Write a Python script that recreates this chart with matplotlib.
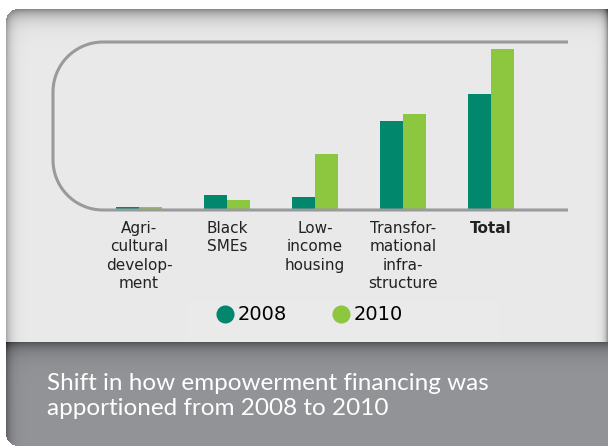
import numpy as np
import matplotlib
matplotlib.use("Agg")
import matplotlib.pyplot as plt
from matplotlib.path import Path
from matplotlib.patches import PathPatch
from matplotlib.lines import Line2D

plt.rcParams["font.family"] = "DejaVu Sans"

# empowerment financing by category
categories = ["Agri-\ncultural\ndevelop-\nment", "Black\nSMEs", "Low-\nincome\nhousing",
              "Transfor-\nmational\ninfra-\nstructure", "Total"]
fin_2008 = [3, 15, 13, 89, 116]
fin_2010 = [3, 10, 56, 96, 161]
years = ["2008", "2010"]

green_dark = "#00876c"
green_light = "#8dc63f"

W, H = 608, 448
fig = plt.figure(figsize=(W / 100, H / 100), dpi=100)

# background panel with soft inner shadows
ax_bg = fig.add_axes([0, 0, 1, 1])
ax_bg.set_xlim(0, W)
ax_bg.set_ylim(H, 0)
ax_bg.axis("off")

yy, xx = np.mgrid[0:H, 0:W] + 0.5
left, top, bottom, r = 6.0, 9.0, 446.0, 12.0
split = 342.0

inside = (xx >= left) & (yy >= top) & (yy <= bottom)
c_tl = (xx < left + r) & (yy < top + r)
inside &= ~c_tl | ((xx - left - r) ** 2 + (yy - top - r) ** 2 <= r ** 2)
c_bl = (xx < left + r) & (yy > bottom - r)
inside &= ~c_bl | ((xx - left - r) ** 2 + (yy - bottom + r) ** 2 <= r ** 2)

light = 234 - 100 * np.exp(-(yy - top) / 8) - 70 * np.exp(-(xx - left) / 5) \
        - 35 * np.exp(-(W - 3 - xx) / 3)
dark = 150 - 65 * np.exp(-(yy - split) / 8) - 55 * np.exp(-(xx - left) / 5)

img = np.ones((H, W, 3))
upper = inside & (yy < split)
lower = inside & (yy >= split)
for k in range(3):
    img[..., k][upper] = np.clip(light[upper], 0, 255) / 255
img[..., 0][lower] = np.clip(dark[lower] - 3, 0, 255) / 255
img[..., 1][lower] = np.clip(dark[lower] - 2, 0, 255) / 255
img[..., 2][lower] = np.clip(dark[lower] + 1, 0, 255) / 255
ax_bg.imshow(img, extent=(0, W, H, 0), interpolation="nearest", aspect="auto")

ax_bg.text(47, 396, "Shift in how empowerment financing was\napportioned from 2008 to 2010",
           color="white", fontsize=17.5, family="Lato", va="center", ha="left",
           linespacing=1.2)

# bar chart
ax = fig.add_axes([53 / W, 1 - 210 / H, (568 - 53) / W, (210 - 42) / H])
ax.set_facecolor("none")
x = np.arange(len(categories))
bw = 0.262
ax.bar(x - bw / 2, fin_2008, bw, color=green_dark, zorder=2)
ax.bar(x + bw / 2, fin_2010, bw, color=green_light, zorder=2)
ax.set_xlim(-0.977, 4.875)
ax.set_ylim(0, 168)
for s in ax.spines.values():
    s.set_visible(False)
ax.set_yticks([])
ax.set_xticks(x)
ax.set_xticklabels(categories, fontsize=11, color="#222222", linespacing=1.27)
ax.get_xticklabels()[-1].set_fontweight("bold")
ax.tick_params(axis="x", length=0, pad=8)

# rounded frame open on the right
R = 50
x0, x1, yt, yb = 53, 568, 42, 210
th1 = np.linspace(np.pi / 2, np.pi, 30)
th2 = np.linspace(np.pi, 1.5 * np.pi, 30)
pts = [(x1, yt)]
pts += [(x0 + R + R * np.cos(t), yt + R - R * np.sin(t)) for t in th1]
pts += [(x0 + R + R * np.cos(t), yb - R - R * np.sin(t)) for t in th2]
pts += [(x1, yb)]
frame = PathPatch(Path(pts), fill=False, edgecolor="#9a9a9c", lw=2.2,
                  transform=ax_bg.transData, clip_on=False, zorder=3)
ax.add_patch(frame)

handles = [Line2D([], [], ls="none", marker="o", ms=12, color=c)
           for c in (green_dark, green_light)]
fig.legend(handles, years, loc="center", bbox_to_anchor=(309 / W, 1 - 315 / H),
           ncol=2, frameon=False, fontsize=14, handletextpad=0.15,
           columnspacing=2.3, handlelength=1.0)

fig.savefig("out.png", dpi=100)
